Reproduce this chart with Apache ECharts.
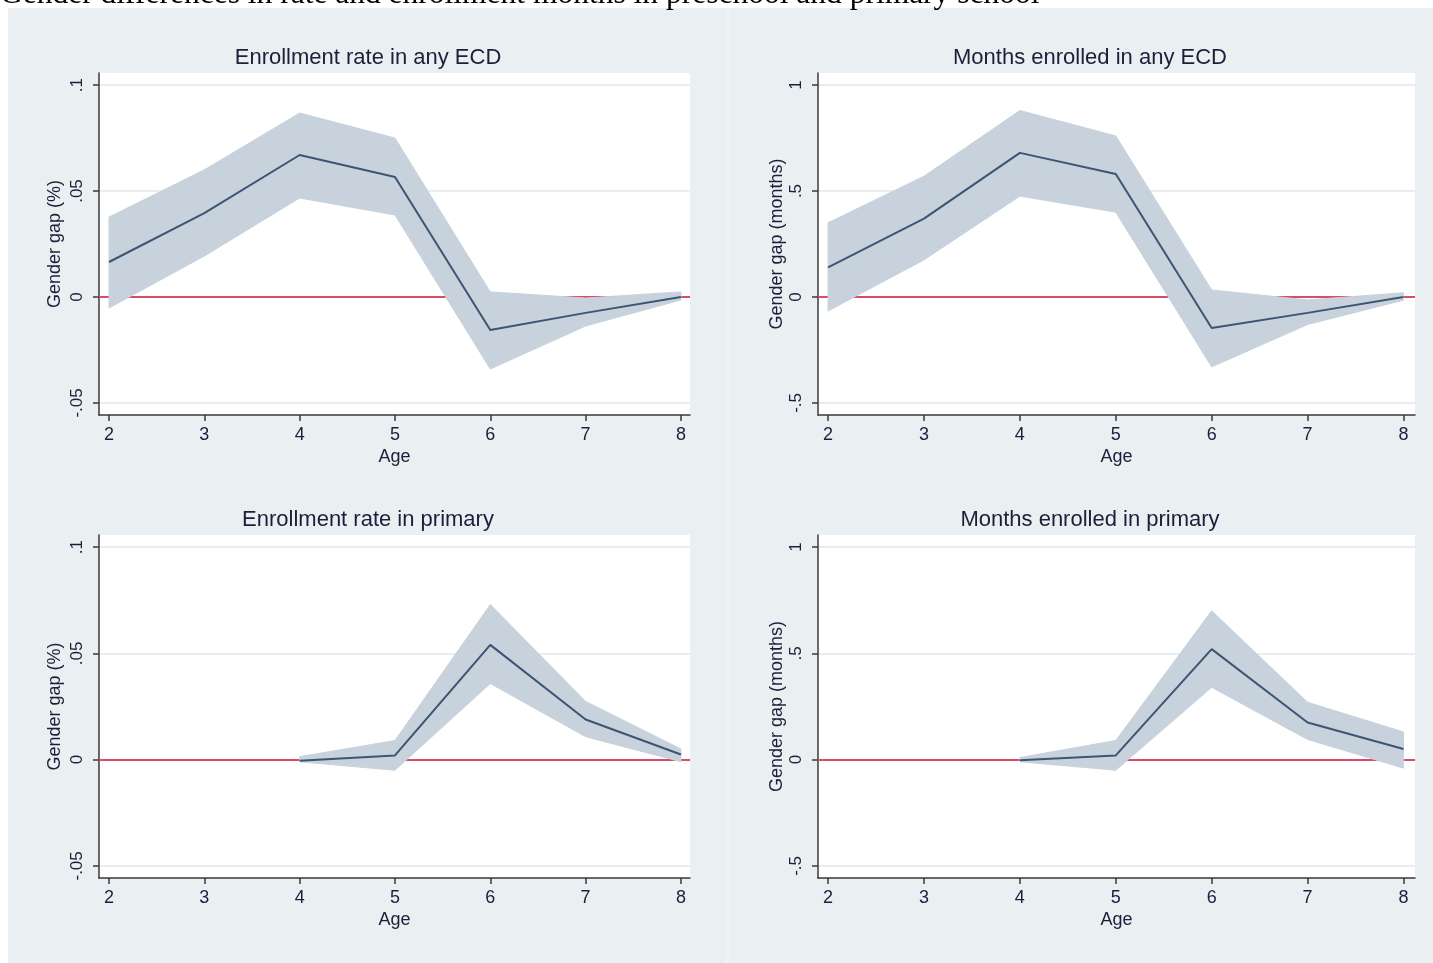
<!DOCTYPE html>
<html>
<head>
<meta charset="utf-8">
<script src="https://cdn.jsdelivr.net/npm/echarts@6/dist/echarts.min.js"></script>
<style>
  html, body { margin: 0; padding: 0; background: #ffffff; }
  #chart { width: 1433px; height: 963px; }
</style>
</head>
<body>
<div id="chart"></div>
<script>
// ---- Data: gender gap estimates with 95% confidence bands ----
const agesEcd = [2, 3, 4, 5, 6, 7, 8];
const ecdRateGap   = [0.0165, 0.0396, 0.0670, 0.0566, -0.0156, -0.0075, 0.0000];
const ecdRateLow   = [-0.0052, 0.0193, 0.0467, 0.0387, -0.0340, -0.0137, -0.0014];
const ecdRateHigh  = [0.0377, 0.0600, 0.0868, 0.0750, 0.0024, -0.0005, 0.0024];

const ecdMonthsGap  = [0.140, 0.370, 0.680, 0.580, -0.146, -0.075, 0.000];
const ecdMonthsLow  = [-0.066, 0.175, 0.476, 0.400, -0.330, -0.130, -0.015];
const ecdMonthsHigh = [0.350, 0.570, 0.880, 0.760, 0.033, -0.014, 0.020];

const agesPrimary = [4, 5, 6, 7, 8];
const priRateGap   = [-0.0005, 0.0020, 0.0540, 0.0189, 0.0024];
const priRateLow   = [-0.0010, -0.0050, 0.0358, 0.0108, -0.0010];
const priRateHigh  = [0.0014, 0.0090, 0.0730, 0.0274, 0.0050];

const priMonthsGap  = [-0.003, 0.020, 0.520, 0.175, 0.050];
const priMonthsLow  = [-0.010, -0.050, 0.340, 0.095, -0.040];
const priMonthsHigh = [0.010, 0.090, 0.700, 0.270, 0.130];

// ---- Tick values and labels ----
const ageTicks = [2, 3, 4, 5, 6, 7, 8];
const rateTicks = [-0.05, 0, 0.05, 0.1];
const rateTickLabels = ['-.05', '0', '.05', '.1'];
const monthTicks = [-0.5, 0, 0.5, 1];
const monthTickLabels = ['-.5', '0', '.5', '1'];

// ---- Text ----
const figureHeading = 'Gender differences in rate and enrollment months in preschool and primary school';
const panelTitles = ['Enrollment rate in any ECD', 'Months enrolled in any ECD',
                     'Enrollment rate in primary', 'Months enrolled in primary'];
const yNames = ['Gender gap (%)', 'Gender gap (months)', 'Gender gap (%)', 'Gender gap (months)'];
const xName = 'Age';

// ---- Styling ----
const INK = '#18203a';
const BAND = '#c8d2dc';
const LINE = '#3b5573';
const ZERO = '#d84c68';
const FONT = '"Liberation Sans", Arial, sans-serif';

const panels = [
  { ages: agesEcd, gap: ecdRateGap, low: ecdRateLow, high: ecdRateHigh,
    ticks: rateTicks, labels: rateTickLabels, yMin: -0.0557, yMax: 0.1057, yNameGap: 35,
    grid: { left: 99, top: 73, width: 591, height: 342 }, titleX: 368, titleY: 58 },
  { ages: agesEcd, gap: ecdMonthsGap, low: ecdMonthsLow, high: ecdMonthsHigh,
    ticks: monthTicks, labels: monthTickLabels, yMin: -0.557, yMax: 1.057, yNameGap: 32,
    grid: { left: 818, top: 73, width: 597, height: 342 }, titleX: 1090, titleY: 58 },
  { ages: agesPrimary, gap: priRateGap, low: priRateLow, high: priRateHigh,
    ticks: rateTicks, labels: rateTickLabels, yMin: -0.0557, yMax: 0.1057, yNameGap: 35,
    grid: { left: 99, top: 535, width: 591, height: 343 }, titleX: 368, titleY: 520 },
  { ages: agesPrimary, gap: priMonthsGap, low: priMonthsLow, high: priMonthsHigh,
    ticks: monthTicks, labels: monthTickLabels, yMin: -0.557, yMax: 1.057, yNameGap: 32,
    grid: { left: 818, top: 535, width: 597, height: 343 }, titleX: 1090, titleY: 520 }
];

const chart = echarts.init(document.getElementById('chart'), null, { renderer: 'canvas' });

const grids = [], xAxes = [], yAxes = [], series = [];

panels.forEach(function (p, i) {
  grids.push(Object.assign({ show: true, backgroundColor: '#ffffff', borderWidth: 0 }, p.grid));

  xAxes.push({
    type: 'value', gridIndex: i, min: 1.895, max: i % 2 ? 8.12 : 8.095,
    name: xName, nameLocation: 'middle', nameGap: 33,
    nameTextStyle: { color: INK, fontFamily: FONT, fontSize: 18 },
    axisLine: { show: true, onZero: false, lineStyle: { color: '#3a3a3a', width: 1.5 } },
    axisTick: { show: true, length: 6, customValues: ageTicks, lineStyle: { color: '#3a3a3a', width: 1.5 } },
    axisLabel: { customValues: ageTicks, color: INK, fontFamily: FONT, fontSize: 18, margin: 11,
                 formatter: function (v) { return String(v); } },
    splitLine: { show: false }
  });

  yAxes.push({
    type: 'value', gridIndex: i, min: p.yMin, max: p.yMax,
    name: yNames[i], nameLocation: 'middle', nameGap: p.yNameGap,
    nameTextStyle: { color: INK, fontFamily: FONT, fontSize: 18 },
    axisLine: { show: true, onZero: false, lineStyle: { color: '#3a3a3a', width: 1.5 } },
    axisTick: { show: true, length: 6, customValues: p.ticks, lineStyle: { color: '#3a3a3a', width: 1.5 } },
    axisLabel: { customValues: p.ticks, rotate: 90, color: INK, fontFamily: FONT, fontSize: 17, margin: 13,
                 formatter: function (v) {
                   const k = p.ticks.findIndex(function (t) { return Math.abs(t - v) < 1e-9; });
                   return k >= 0 ? p.labels[k] : '';
                 } },
    splitLine: { show: true, lineStyle: { color: '#e9eef1', width: 2 } }
  });

  // Reference line at zero, drawn beneath the confidence band
  series.push({
    type: 'line', xAxisIndex: i, yAxisIndex: i, data: [], z: 1, silent: true,
    markLine: {
      z: 1, silent: true, symbol: 'none', animation: false,
      label: { show: false },
      lineStyle: { color: ZERO, width: 2, type: 'solid' },
      data: [{ yAxis: 0 }]
    }
  });

  // Confidence band as a single polygon through the library's coordinate system
  series.push({
    type: 'custom', xAxisIndex: i, yAxisIndex: i, z: 2, silent: true,
    data: p.ages.map(function (a, k) { return [a, p.low[k], p.high[k]]; }),
    renderItem: function (params, api) {
      if (params.dataIndex !== 0) return null;
      const upper = p.ages.map(function (a, k) { return api.coord([a, p.high[k]]); });
      const lower = p.ages.map(function (a, k) { return api.coord([a, p.low[k]]); }).reverse();
      return {
        type: 'polygon',
        shape: { points: upper.concat(lower) },
        style: { fill: BAND, stroke: BAND, lineWidth: 1 }
      };
    }
  });

  // Point estimate
  series.push({
    type: 'line', xAxisIndex: i, yAxisIndex: i, z: 3, silent: true,
    symbol: 'none',
    lineStyle: { color: LINE, width: 2 },
    data: p.ages.map(function (a, k) { return [a, p.gap[k]]; })
  });
});

const graphics = [
  // graph regions
  { type: 'rect', shape: { x: 8, y: 8, width: 718, height: 955 }, style: { fill: '#eaeff2' }, z: -10 },
  { type: 'rect', shape: { x: 729, y: 8, width: 704, height: 955 }, style: { fill: '#eaeff2' }, z: -10 },
  { type: 'rect', shape: { x: 726, y: 8, width: 3, height: 955 }, style: { fill: '#f1f4f6' }, z: -10 },
  // heading, running off the top edge of the page
  { type: 'text', x: 0, y: 11, z: -5,
    style: { text: figureHeading, font: '31.5px "Liberation Serif", "Times New Roman", serif',
             fill: '#000000', align: 'left', verticalAlign: 'bottom' } }
];
panels.forEach(function (p, i) {
  graphics.push({ type: 'text', x: p.titleX, y: p.titleY, z: 10,
    style: { text: panelTitles[i], font: '22px ' + FONT, fill: INK, align: 'center', verticalAlign: 'middle' } });
});

chart.setOption({
  animation: false,
  backgroundColor: '#ffffff',
  grid: grids,
  xAxis: xAxes,
  yAxis: yAxes,
  series: series,
  graphic: graphics
});
</script>
</body>
</html>
